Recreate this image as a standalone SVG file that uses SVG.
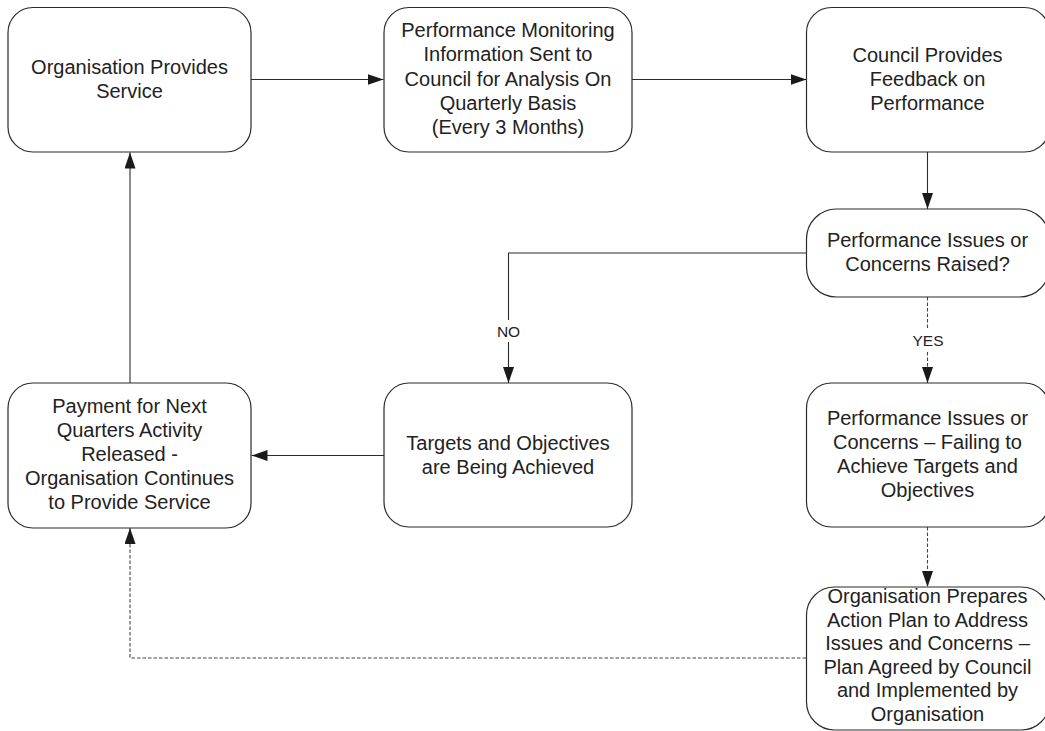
<svg xmlns="http://www.w3.org/2000/svg" width="1045" height="731" viewBox="0 0 1045 731">
<defs>
<style>
.box{fill:#fff;stroke:#2b2b2b;stroke-width:1.2}
.t{font-family:"Liberation Sans",Arial,sans-serif;font-size:20px;fill:#222;text-anchor:middle}
.lbl{font-family:"Liberation Sans",Arial,sans-serif;font-size:15.5px;fill:#222;text-anchor:middle}
.c{fill:none;stroke:#2b2b2b;stroke-width:1.1}
.d{stroke:#444;stroke-dasharray:3.5,2}
</style>
<marker id="ah" markerUnits="userSpaceOnUse" markerWidth="17" markerHeight="12" refX="16" refY="5.5" orient="auto">
<path d="M0,0 L16,5.5 L0,11 z" fill="#1a1a1a"/>
</marker>
</defs>
<rect width="1045" height="731" fill="#fff"/>

<g id="connectors">
<path class="c" d="M251,79.5 H383.5" marker-end="url(#ah)"/>
<path class="c" d="M632,79.5 H806.5" marker-end="url(#ah)"/>
<path class="c" d="M927.5,152 V209" marker-end="url(#ah)"/>
<path class="c" d="M806,253 H508.5 V383" marker-end="url(#ah)"/>
<path class="c d" d="M927.5,297 V383" marker-end="url(#ah)"/>
<path class="c" d="M384,455.5 H251.5" marker-end="url(#ah)"/>
<path class="c d" d="M927.5,527 V587" marker-end="url(#ah)"/>
<path class="c d" d="M806,658 H130 V528" marker-end="url(#ah)"/>
<path class="c" d="M130,383 V152.5" marker-end="url(#ah)"/>
<rect x="494" y="320" width="29" height="22" fill="#fff"/>
<text class="lbl" x="508.5" y="337">NO</text>
<rect x="912" y="329" width="32" height="22" fill="#fff"/>
<text class="lbl" x="928" y="346">YES</text>
</g>

<g id="n1">
<rect class="box" x="8" y="7.5" width="243" height="144.5" rx="25" ry="25"/>
<text class="t"><tspan x="129.5" y="74">Organisation Provides</tspan><tspan x="129.5" y="97.5">Service</tspan></text>
</g>

<g id="n2">
<rect class="box" x="384" y="7.5" width="248" height="144.5" rx="25" ry="25"/>
<text class="t"><tspan x="508" y="37">Performance Monitoring</tspan><tspan x="508" y="61.3">Information Sent to</tspan><tspan x="508" y="85.6">Council for Analysis On</tspan><tspan x="508" y="110">Quarterly Basis</tspan><tspan x="508" y="134.3">(Every 3 Months)</tspan></text>
</g>

<g id="n3">
<rect class="box" x="806.5" y="7.5" width="243" height="144.5" rx="25" ry="25"/>
<text class="t"><tspan x="927.5" y="61.7">Council Provides</tspan><tspan x="927.5" y="86">Feedback on</tspan><tspan x="927.5" y="110.2">Performance</tspan></text>
</g>

<g id="n4">
<rect class="box" x="806.5" y="209" width="243" height="88" rx="30" ry="30"/>
<text class="t"><tspan x="927.5" y="247">Performance Issues or</tspan><tspan x="927.5" y="271">Concerns Raised?</tspan></text>
</g>

<g id="n5">
<rect class="box" x="806.5" y="383" width="243" height="144" rx="25" ry="25"/>
<text class="t"><tspan x="927.5" y="425">Performance Issues or</tspan><tspan x="927.5" y="449">Concerns – Failing to</tspan><tspan x="927.5" y="473">Achieve Targets and</tspan><tspan x="927.5" y="497">Objectives</tspan></text>
</g>

<g id="n6">
<rect class="box" x="806.5" y="587" width="243" height="143" rx="28" ry="28"/>
<text class="t"><tspan x="927.5" y="603">Organisation Prepares</tspan><tspan x="927.5" y="626.5">Action Plan to Address</tspan><tspan x="927.5" y="650">Issues and Concerns –</tspan><tspan x="927.5" y="673.5">Plan Agreed by Council</tspan><tspan x="927.5" y="697">and Implemented by</tspan><tspan x="927.5" y="720.5">Organisation</tspan></text>
</g>

<g id="n7">
<rect class="box" x="384" y="383" width="248" height="144" rx="25" ry="25"/>
<text class="t"><tspan x="508" y="450">Targets and Objectives</tspan><tspan x="508" y="473.5">are Being Achieved</tspan></text>
</g>

<g id="n8">
<rect class="box" x="8" y="383" width="243" height="145" rx="25" ry="25"/>
<text class="t"><tspan x="129.5" y="413">Payment for Next</tspan><tspan x="129.5" y="437">Quarters Activity</tspan><tspan x="129.5" y="461">Released -</tspan><tspan x="129.5" y="485">Organisation Continues</tspan><tspan x="129.5" y="509">to Provide Service</tspan></text>
</g>
</svg>
